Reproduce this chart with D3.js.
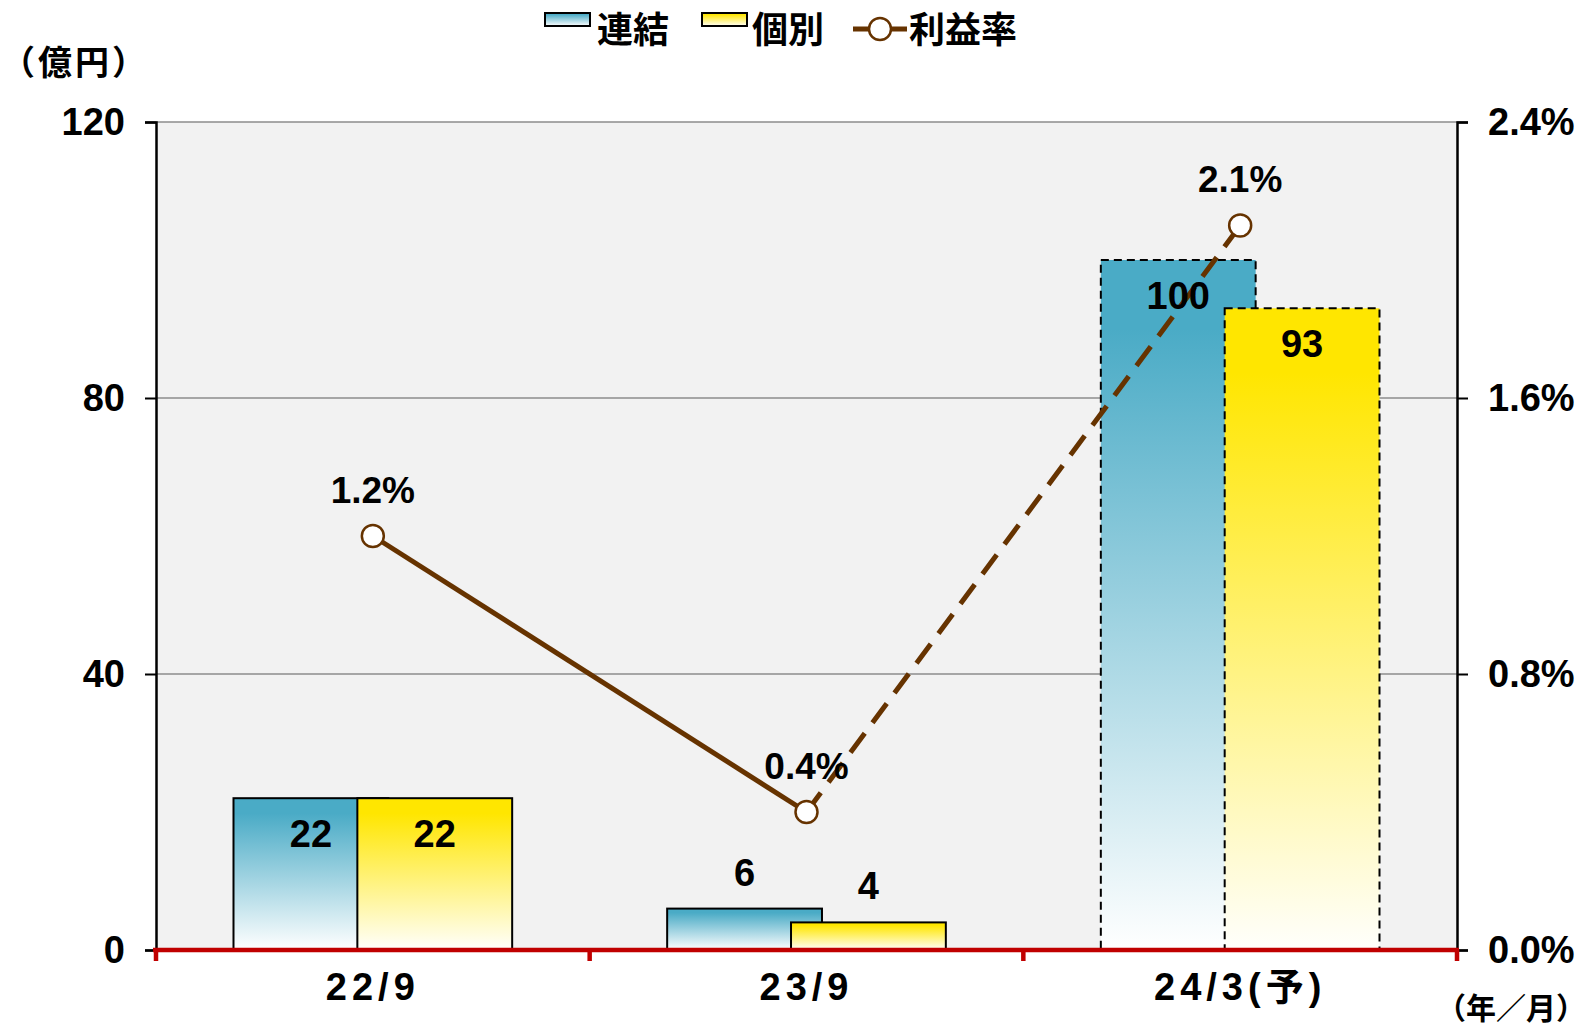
<!DOCTYPE html>
<html>
<head>
<meta charset="utf-8">
<script src="https://cdn.jsdelivr.net/npm/d3@7"></script>
<style>
  body { margin: 0; background: #fff; }
  svg { display: block; }
  .num { font-family: "Liberation Sans", Arial, "Noto Sans CJK JP", sans-serif; font-weight: bold; }
  .jp { font-family: "Noto Sans CJK JP", sans-serif; font-weight: bold; }
</style>
</head>
<body>
<div id="chart"></div>
<script>
/* data */
var categories = ["22/9", "23/9", "24/3(予)"]
var consolidated = [22, 6, 100]   // 連結
var standalone = [22, 4, 93]      // 個別
var margin = [1.2, 0.4, 2.1]      // 利益率 (%)
var forecast = [false, false, true]
var leftTicks = [0, 40, 80, 120]
var rightTicks = [0, 0.8, 1.6, 2.4]

var width = 1591, height = 1029
var plot = { left: 156, right: 1457, top: 122, bottom: 950 }

var svg = d3.select("#chart").append("svg")
  .attr("width", width)
  .attr("height", height)

var defs = svg.append("defs")
function addGradient(id, top, bottom) {
  var g = defs.append("linearGradient").attr("id", id)
    .attr("x1", 0).attr("y1", 0).attr("x2", 0).attr("y2", 1)
  g.append("stop").attr("offset", "0").attr("stop-color", top)
  g.append("stop").attr("offset", "0.1").attr("stop-color", top)
  g.append("stop").attr("offset", "1").attr("stop-color", bottom)
}
addGradient("gradBlue", "#4aabc6", "#ffffff")
addGradient("gradYellow", "#ffe600", "#fffffc")

var x = d3.scaleBand().domain(categories).range([plot.left, plot.right])
var y = d3.scaleLinear().domain([0, 120]).range([plot.bottom, plot.top])
var y2 = d3.scaleLinear().domain([0, 2.4]).range([plot.bottom, plot.top])

var barW = x.bandwidth() * 0.357
var shift = barW * 0.4  // overlap 20%
function cx(i) { return x(categories[i]) + x.bandwidth() / 2 }

// plot area
svg.append("rect")
  .attr("x", plot.left).attr("y", plot.top)
  .attr("width", plot.right - plot.left).attr("height", plot.bottom - plot.top)
  .attr("fill", "#f2f2f2")

// gridlines
svg.append("g").selectAll("line")
  .data(leftTicks.filter(d => d > 0))
  .enter().append("line")
  .attr("x1", plot.left).attr("x2", plot.right)
  .attr("y1", d => y(d)).attr("y2", d => y(d))
  .attr("stroke", "#8c8c8c").attr("stroke-width", 1.5)

// axes
var leftAxis = svg.append("g").attr("transform", `translate(${plot.left},0)`)
  .call(d3.axisLeft(y).tickValues(leftTicks).tickSize(11).tickPadding(20).tickFormat(d3.format("d")))
var rightAxis = svg.append("g").attr("transform", `translate(${plot.right},0)`)
  .call(d3.axisRight(y2).tickValues(rightTicks).tickSize(11).tickPadding(20).tickFormat(d => d.toFixed(1) + "%"))
;[leftAxis, rightAxis].forEach(a => {
  a.select(".domain").attr("stroke", "#000").attr("stroke-width", 2.5)
  a.selectAll(".tick line").attr("stroke", "#000").attr("stroke-width", 2)
  a.selectAll(".tick text").attr("class", "num").attr("font-size", 38).attr("fill", "#000")
    .attr("font-weight", d => d === 0 ? "normal" : "bold")
})

// bars
var bars = svg.append("g")
function drawBars(values, dx, fill) {
  bars.selectAll(null)
    .data(values)
    .enter().append("rect")
    .attr("x", (d, i) => cx(i) + dx - barW / 2)
    .attr("y", d => y(d))
    .attr("width", barW)
    .attr("height", d => y(0) - y(d))
    .attr("fill", fill)
    .attr("stroke", "#000")
    .attr("stroke-width", 2)
    .attr("stroke-dasharray", (d, i) => forecast[i] ? "8,5" : null)
}
drawBars(consolidated, -shift, "url(#gradBlue)")
drawBars(standalone, shift, "url(#gradYellow)")

// category axis (red)
var xAxis = svg.append("g")
xAxis.append("line")
  .attr("x1", plot.left - 3).attr("x2", plot.right + 2)
  .attr("y1", plot.bottom).attr("y2", plot.bottom)
  .attr("stroke", "#c00000").attr("stroke-width", 4.5)
var bounds = categories.map(c => x(c)).concat([plot.right])
xAxis.selectAll(".xt").data(bounds).enter().append("line")
  .attr("x1", d => d).attr("x2", d => d)
  .attr("y1", plot.bottom).attr("y2", plot.bottom + 11)
  .attr("stroke", "#c00000").attr("stroke-width", 4.5)
xAxis.selectAll("text").data(categories).enter().append("text")
  .attr("class", "num")
  .attr("x", (d, i) => cx(i))
  .attr("y", 987)
  .attr("text-anchor", "middle")
  .attr("dominant-baseline", "central")
  .attr("font-size", 38)
  .attr("letter-spacing", 5)
  .text(d => d)

// margin line: solid for actuals, dashed into forecast
var lineGen = d3.line().x(d => cx(d.i)).y(d => y2(d.v))
var pts = margin.map((v, i) => ({ v: v, i: i }))
for (var i = 0; i < pts.length - 1; i++) {
  svg.append("path")
    .attr("d", lineGen([pts[i], pts[i + 1]]))
    .attr("fill", "none")
    .attr("stroke", "#663300")
    .attr("stroke-width", 5)
    .attr("stroke-dasharray", forecast[i + 1] ? "24,13" : null)
}
svg.selectAll(".marker").data(pts).enter().append("circle")
  .attr("cx", d => cx(d.i)).attr("cy", d => y2(d.v))
  .attr("r", 11)
  .attr("fill", "#fff")
  .attr("stroke", "#663300")
  .attr("stroke-width", 2.5)

// labels
var labels = svg.append("g")
function barLabels(values, dx) {
  labels.selectAll(null).data(values).enter().append("text")
    .attr("class", "num")
    .attr("x", (d, i) => cx(i) + dx)
    .attr("y", d => d >= 10 ? y(d) + 36 : y(d) - 36)
    .attr("text-anchor", "middle")
    .attr("dominant-baseline", "central")
    .attr("font-size", 38)
    .text(d => d)
}
barLabels(consolidated, -shift)
barLabels(standalone, shift)
labels.selectAll(null).data(pts).enter().append("text")
  .attr("class", "num")
  .attr("x", d => cx(d.i))
  .attr("y", d => y2(d.v) - 46)
  .attr("text-anchor", "middle")
  .attr("dominant-baseline", "central")
  .attr("font-size", 37)
  .text(d => d.v.toFixed(1) + "%")

// unit labels
svg.append("text").attr("class", "jp")
  .attr("x", 1).attr("y", 60)
  .attr("dominant-baseline", "central")
  .attr("font-size", 34).attr("letter-spacing", 3)
  .text("（億円）")
svg.append("text").attr("class", "jp")
  .attr("x", 1586).attr("y", 1006)
  .attr("text-anchor", "end")
  .attr("dominant-baseline", "central")
  .attr("font-size", 30)
  .text("（年／月）")

// legend
var legend = svg.append("g")
legend.append("rect").attr("x", 545).attr("y", 13).attr("width", 45).attr("height", 13)
  .attr("fill", "url(#gradBlue)").attr("stroke", "#000").attr("stroke-width", 2)
legend.append("rect").attr("x", 702).attr("y", 13).attr("width", 45).attr("height", 13)
  .attr("fill", "url(#gradYellow)").attr("stroke", "#000").attr("stroke-width", 2)
legend.append("line").attr("x1", 853).attr("x2", 907).attr("y1", 29).attr("y2", 29)
  .attr("stroke", "#663300").attr("stroke-width", 5)
legend.append("circle").attr("cx", 880).attr("cy", 29).attr("r", 11)
  .attr("fill", "#fff").attr("stroke", "#663300").attr("stroke-width", 2.5)
var legendText = [["連結", 597], ["個別", 752], ["利益率", 909]]
legend.selectAll("text").data(legendText).enter().append("text")
  .attr("class", "jp")
  .attr("x", d => d[1]).attr("y", 27)
  .attr("dominant-baseline", "central")
  .attr("font-size", 36)
  .text(d => d[0])
</script>
</body>
</html>
